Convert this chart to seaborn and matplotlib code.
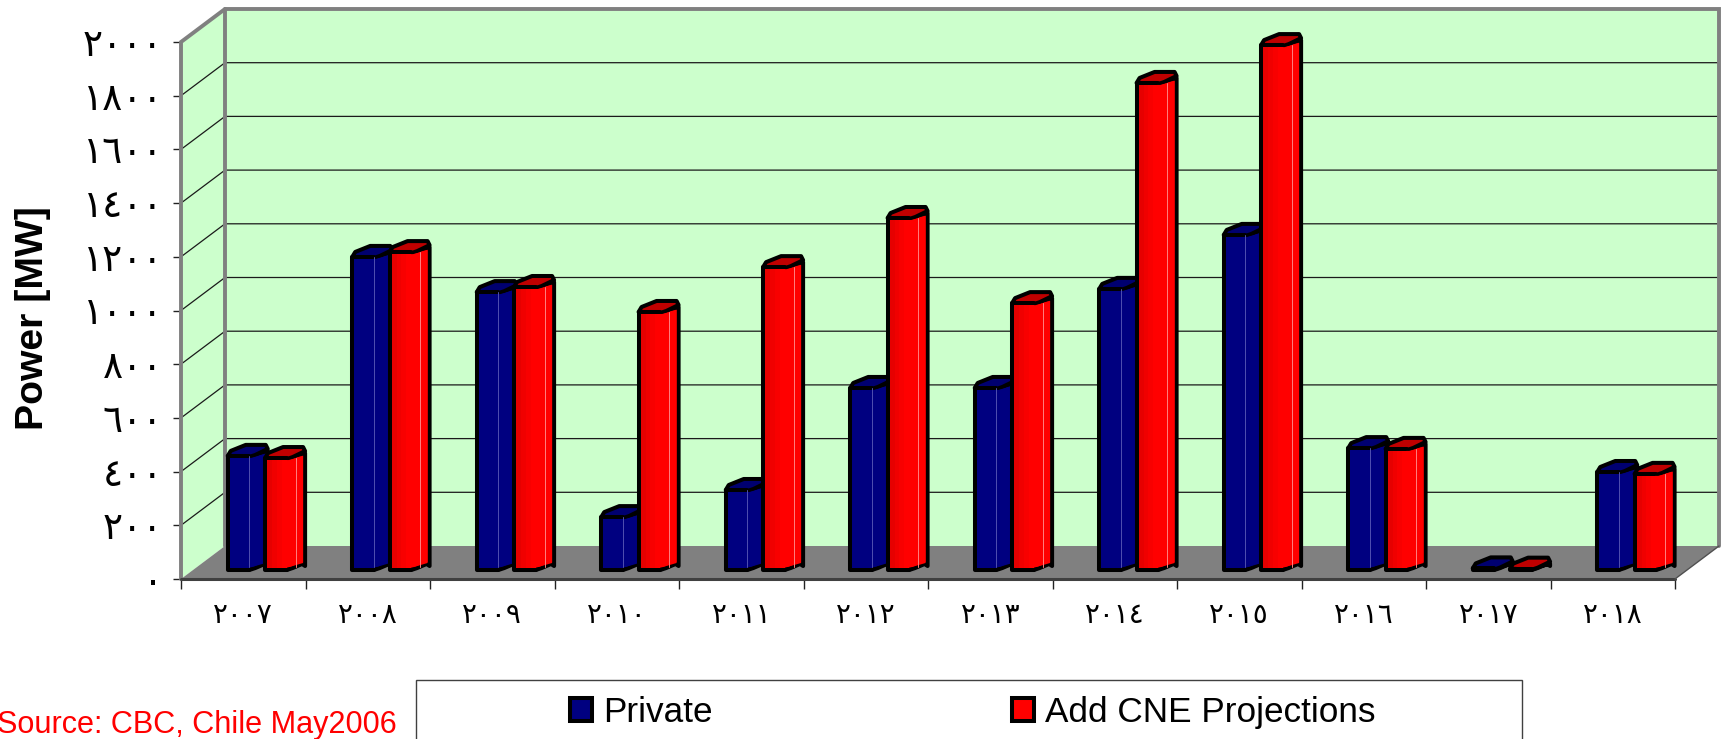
import matplotlib
matplotlib.use("Agg")
import matplotlib.pyplot as plt
from matplotlib.patches import Polygon, Rectangle
from matplotlib.transforms import Affine2D
import numpy as np
import pandas as pd
import seaborn as sns

years = ["٢٠٠٧", "٢٠٠٨", "٢٠٠٩", "٢٠١٠", "٢٠١١", "٢٠١٢",
         "٢٠١٣", "٢٠١٤", "٢٠١٥", "٢٠١٦", "٢٠١٧", "٢٠١٨"]
private = [425, 1166, 1035, 197, 298, 678, 678, 1047, 1248, 454, 6, 365]
add_cne = [417, 1184, 1054, 961, 1128, 1311, 994, 1814, 1955, 451, 5, 358]
y_ticks = [0, 200, 400, 600, 800, 1000, 1200, 1400, 1600, 1800, 2000]
y_labels = ["٠", "٢٠٠", "٤٠٠", "٦٠٠", "٨٠٠", "١٠٠٠", "١٢٠٠", "١٤٠٠", "١٦٠٠", "١٨٠٠", "٢٠٠٠"]
series_names = ["Private", "Add CNE Projections"]

W, H = 1723, 739
GREEN = "#CCFFCC"
GRAY = "#808080"
NAVY = "#000080"
RED = "#FF0000"
ARABIC = ["DejaVu Sans"]

sns.set_theme(style="white", rc={"font.family": ["Liberation Sans", "DejaVu Sans"]})

df = pd.DataFrame({
    "year": years * 2,
    "power": private + add_cne,
    "series": [series_names[0]] * 12 + [series_names[1]] * 12,
})

fig = plt.figure(figsize=(W / 100, H / 100), dpi=100, facecolor="white")
ax = fig.add_axes([181 / W, 1 - 579 / H, 1494 / W, 537 / H])
ax.patch.set_visible(False)

LW = 2.9
sns.barplot(data=df, x="year", y="power", hue="series", order=years, hue_order=series_names,
            palette=[NAVY, RED], saturation=1, width=0.6, gap=0.42,
            edgecolor="black", linewidth=LW, ax=ax)
ax.set_xlim(-0.5, 11.5)
ax.set_ylim(0, 2000)
for s in ax.spines.values():
    s.set_visible(False)

# one pixel expressed in data units
ux = 12 / 1494
uy = 2000 / 537


def wall(points, color, z=0.5):
    ax.add_patch(Polygon(points, closed=True, facecolor=color, edgecolor=color, linewidth=0,
                         transform=ax.transData, clip_on=False, zorder=z))


dx_px, dy_px = 44 * ux, 33 * uy
x0, x1 = -0.5, 11.5
wall([(x0, 0), (x1, 0), (x1 + dx_px, dy_px), (x0 + dx_px, dy_px)], GRAY, z=0.6)
wall([(x0, 0), (x0 + dx_px, dy_px), (x0 + dx_px, 2000 + dy_px), (x0, 2000)], GREEN, z=0.5)
wall([(x0 + dx_px, dy_px), (x1 + dx_px, dy_px), (x1 + dx_px, 2000 + dy_px), (x0 + dx_px, 2000 + dy_px)], GREEN, z=0.4)

# grid lines on the back wall and the left wall
for v in y_ticks[1:-1]:
    ax.plot([x0, x0 + dx_px, x1 + dx_px], [v, v + dy_px, v + dy_px], color="#1a1a1a", lw=0.9,
            clip_on=False, zorder=0.7)

# grey frame of the walls
ax.plot([x0, x0, x0 + dx_px, x1 + dx_px, x1 + dx_px], [0, 2000, 2000 + dy_px, 2000 + dy_px, dy_px],
        color=GRAY, lw=2.8, clip_on=False, zorder=0.8, solid_joinstyle="miter")
ax.plot([x0 + dx_px, x0 + dx_px], [dy_px, 2000 + dy_px], color=GRAY, lw=2.8, clip_on=False, zorder=0.8)
ax.plot([x0, x1], [0, 0], color="#404040", lw=2.2, clip_on=False, zorder=0.9)
ax.plot([x1, x1 + dx_px], [0, dy_px], color="#505050", lw=1, clip_on=False, zorder=0.9)

# the bars stand part of the way into the box
bar_tf = ax.transData + Affine2D().translate(14, 9)
top_colors = ["#000070", "#C00000"]
side_colors = [NAVY, RED]
strip_colors = [[NAVY], ["#E60000", "#F00000", "#F80000", "#FF0000"]]
line_colors = ["#5050B0", "#FF8080"]

for k, cont in enumerate(ax.containers):
    z = 3 + 2 * k
    for bar in cont:
        left, w, h = bar.get_x(), bar.get_width(), bar.get_height()
        right = left + w
        bar.set_transform(bar_tf)
        bar.set_clip_on(False)
        bar.set_zorder(z + 1)
        bar.set_joinstyle("round")
        side_x = left + 40 * ux
        side = [(right, h), (side_x, h + 5 * uy), (side_x, 4 * uy), (side_x - 3 * ux, 6 * uy),
                (right + 6 * ux, 2 * uy), (right, 0)]
        ax.add_patch(Polygon(side, closed=True, facecolor=side_colors[k], edgecolor="black", linewidth=LW,
                             joinstyle="round", transform=bar_tf, clip_on=False, zorder=z))
        top = [(left, h), (left + 3 * ux, h + 5 * uy), (left + 18 * ux, h + 11 * uy), (left + 38 * ux, h + 11 * uy),
               (side_x, h + 7 * uy), (right + 6 * ux, h + uy), (right, h - uy)]
        ax.add_patch(Polygon(top, closed=True, facecolor=top_colors[k], edgecolor="black", linewidth=LW,
                             joinstyle="round", transform=bar_tf, clip_on=False, zorder=z + 0.5))
        if h * 0.2685 < 6:
            continue
        # shaded bands inside the front face, running on into the side so no divider shows
        cols = strip_colors[k]
        edges = np.linspace(left + 2 * ux, right, len(cols) + 1)
        for c, a, b in zip(cols, edges[:-1], edges[1:]):
            ax.add_patch(Rectangle((a, 2 * uy), b - a, h - 4 * uy, facecolor=c, edgecolor="none",
                                   transform=bar_tf, clip_on=False, zorder=z + 1.1))
        round_side = [(right - ux, 2 * uy), (right + 6 * ux, 4 * uy), (side_x - 2 * ux, 7 * uy),
                      (side_x - 2 * ux, h + 2 * uy), (right + 2 * ux, h - 2 * uy), (right - ux, h - 2 * uy)]
        ax.add_patch(Polygon(round_side, closed=True, facecolor=side_colors[k], edgecolor="none",
                             transform=bar_tf, clip_on=False, zorder=z + 1.1))
        lx = right if k == 0 else right + 9 * ux
        ax.plot([lx, lx], [3 * uy, h], color=line_colors[k], lw=0.7, transform=bar_tf, clip_on=False,
                zorder=z + 1.2)

# axes ticks
ax.set_yticks(y_ticks)
ax.set_yticklabels(y_labels, fontsize=27, family=ARABIC, color="black")
ax.set_xticks(np.arange(-0.5, 12, 1))
ax.set_xticklabels([""] * 13)
ax.set_xticks(np.arange(12), labels=years, minor=True, fontsize=20, family=ARABIC, color="black")
ax.tick_params(axis="y", which="major", left=True, length=6, width=1, color="#222222", pad=7)
ax.tick_params(axis="x", which="major", bottom=True, length=7, width=1, color="#222222")
ax.tick_params(axis="x", which="minor", bottom=False, length=0, pad=16)
ax.set_xlabel("")
ax.set_ylabel("Power [MW]", fontsize=28.2, fontweight="bold", color="black")
ax.yaxis.set_label_coords(-0.087, 0.486)

# legend, its box runs off the bottom of the page
sns.move_legend(ax, "upper left", bbox_to_anchor=(570 / W, 1 - 696 / H), bbox_transform=fig.transFigure,
                ncol=2, frameon=False, title=None, fontsize=25.3, borderpad=0, borderaxespad=0,
                handlelength=0.64, handleheight=0.64, handletextpad=0.31, columnspacing=8.5,
                labelcolor="black")
fig.add_artist(Rectangle((416 / W, 1 - 760 / H), 1106 / W, 80 / H, transform=fig.transFigure,
                         facecolor="none", edgecolor="#404040", linewidth=1, zorder=10))

fig.text(-3 / W, 1 - 733 / H, "Source: CBC, Chile May2006", color="#FF0000", fontsize=22.1, va="baseline", ha="left")

fig.savefig("out.png", dpi=100, facecolor="white")
